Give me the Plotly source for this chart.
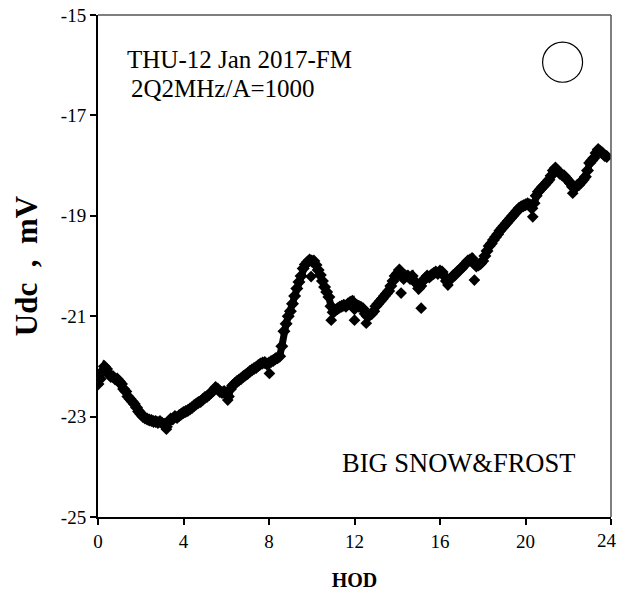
import plotly.graph_objects as go

# Hour of day (HOD) sample times and Udc readings (mV)
hod = [round(i * 0.1, 1) for i in range(0, 239)]
udc = [
    -22.35, -22.25, -22.10, -22.00, -22.05, -22.15, -22.20, -22.20, -22.25, -22.25,
    -22.30, -22.35, -22.45, -22.50, -22.60, -22.65, -22.70, -22.75, -22.82, -22.90,
    -22.95, -23.00, -23.03, -23.05, -23.07, -23.08, -23.10, -23.10, -23.12, -23.10,
    -23.13, -23.15, -23.20, -23.10, -23.05, -23.05, -23.00, -23.02, -22.98, -22.95,
    -22.92, -22.90, -22.88, -22.85, -22.82, -22.78, -22.75, -22.72, -22.70, -22.66,
    -22.62, -22.60, -22.56, -22.52, -22.48, -22.42, -22.45, -22.50, -22.52, -22.50,
    -22.55, -22.60, -22.45, -22.38, -22.34, -22.30, -22.27, -22.24, -22.20, -22.17,
    -22.14, -22.10, -22.07, -22.04, -22.02, -21.98, -21.95, -21.93, -21.92, -21.95,
    -21.93, -21.90, -21.88, -21.85, -21.83, -21.80, -21.60, -21.30, -21.15, -21.00,
    -20.90, -20.75, -20.60, -20.45, -20.32, -20.20, -20.05, -19.97, -19.92, -19.88,
    -19.90, -19.90, -19.98, -20.08, -20.18, -20.30, -20.42, -20.52, -20.62, -20.80,
    -20.92, -20.88, -20.85, -20.82, -20.80, -20.78, -20.80, -20.75, -20.72, -20.70,
    -20.85, -20.78, -20.80, -20.82, -20.85, -20.95, -21.00, -20.98, -20.95, -20.90,
    -20.80, -20.75, -20.70, -20.65, -20.60, -20.55, -20.50, -20.40, -20.30, -20.20,
    -20.15, -20.08, -20.20, -20.25, -20.20, -20.20, -20.25, -20.20, -20.30, -20.35,
    -20.45, -20.40, -20.30, -20.25, -20.20, -20.22, -20.18, -20.15, -20.12, -20.15,
    -20.10, -20.12, -20.20, -20.30, -20.30, -20.25, -20.20, -20.18, -20.12, -20.08,
    -20.05, -20.00, -19.95, -19.90, -19.88, -19.85, -19.95, -20.00, -19.98, -19.95,
    -19.90, -19.80, -19.70, -19.60, -19.55, -19.48, -19.42, -19.37, -19.30, -19.25,
    -19.20, -19.15, -19.10, -19.05, -19.00, -18.95, -18.90, -18.85, -18.82, -18.80,
    -18.78, -18.76, -18.78, -18.85, -18.75, -18.60, -18.52, -18.47, -18.42, -18.38,
    -18.33, -18.28, -18.20, -18.10, -18.05, -18.10, -18.15, -18.18, -18.20, -18.25,
    -18.30, -18.35, -18.42, -18.45, -18.40, -18.38, -18.33, -18.28, -18.22, -18.10,
    -17.95, -17.90, -17.85, -17.75, -17.68, -17.72, -17.75, -17.80, -17.82,
]

# Scattered single readings that stand out from the band
spike_hod = [3.2, 6.07, 8.02, 9.97, 10.91, 12.0, 12.55, 14.18, 15.12, 16.37, 17.61, 20.34, 22.21]
spike_udc = [-23.25, -22.67, -22.14, -20.21, -21.08, -21.08, -21.14, -20.54, -20.84, -20.38, -20.28, -19.02, -18.55]

x_ticks = [0, 4, 8, 12, 16, 20, 24]
y_ticks = [-15, -17, -19, -21, -23, -25]

FONT = "Liberation Serif, Times New Roman, serif"

fig = go.Figure()
fig.add_trace(go.Scatter(
    x=hod, y=udc, mode="lines+markers",
    line=dict(color="black", width=7),
    marker=dict(symbol="diamond", size=10, color="black"),
    showlegend=False, hoverinfo="skip",
))
fig.add_trace(go.Scatter(
    x=spike_hod, y=spike_udc, mode="markers",
    marker=dict(symbol="diamond", size=9, color="black"),
    showlegend=False, hoverinfo="skip",
))

fig.update_layout(
    width=618, height=595,
    margin=dict(l=98, r=7, t=15, b=78),
    paper_bgcolor="white", plot_bgcolor="white",
    font=dict(family=FONT, size=18, color="black"),
    showlegend=False,
)
# last x tick label is drawn as an annotation nudged left so it stays inside the page
x_ticktext = [str(v) for v in x_ticks[:-1]] + [""]
fig.update_xaxes(
    range=[0, 24], tickvals=x_ticks, ticktext=x_ticktext,
    automargin=False, ticklabeloverflow="allow",
    showgrid=False, zeroline=False,
    showline=True, linecolor="black", linewidth=2,
    ticks="outside", ticklen=6, tickwidth=1.5, tickcolor="black",
    tickfont=dict(family=FONT, size=19),
    title=dict(text="<b>HOD</b>", font=dict(family=FONT, size=20), standoff=22),
)
fig.update_yaxes(
    range=[-25, -15], tickvals=y_ticks, ticktext=[str(v) for v in y_ticks],
    automargin=False, ticklabeloverflow="allow",
    showgrid=False, zeroline=False,
    showline=True, linecolor="black", linewidth=2,
    ticks="outside", ticklen=6, tickwidth=1.5, tickcolor="black",
    tickfont=dict(family=FONT, size=19),
    title=dict(text="<b>Udc  ,  mV</b>", font=dict(family=FONT, size=31), standoff=14),
)
fig.add_annotation(x=x_ticks[-1], y=0, xref="x", yref="paper", text=str(x_ticks[-1]),
                   showarrow=False, xanchor="center", yanchor="middle",
                   xshift=-4, yshift=-23, font=dict(family=FONT, size=19))

# top and right frame lines
fig.add_shape(type="line", xref="paper", yref="paper", x0=0, x1=1, y0=1, y1=1,
              line=dict(color="#555555", width=1.5))
fig.add_shape(type="line", xref="paper", yref="paper", x0=1, x1=1, y0=0, y1=1,
              line=dict(color="#555555", width=1.5))

# open circle marker in the top-right corner
fig.add_shape(type="circle", xref="x", yref="y",
              x0=20.8, x1=22.67, y0=-16.34, y1=-15.54,
              line=dict(color="black", width=1.2))

fig.add_annotation(x=1.24, y=-15.88, xref="x", yref="y", text="THU-12 Jan 2017-FM",
                   showarrow=False, xanchor="left", yanchor="middle",
                   font=dict(family=FONT, size=25))
fig.add_annotation(x=1.45, y=-16.46, xref="x", yref="y", text="2Q2MHz/A=1000",
                   showarrow=False, xanchor="left", yanchor="middle",
                   font=dict(family=FONT, size=25))
fig.add_annotation(x=11.3, y=-23.92, xref="x", yref="y", text="BIG SNOW&amp;FROST",
                   showarrow=False, xanchor="left", yanchor="middle",
                   font=dict(family=FONT, size=26.5))

fig.write_html("out.html", config={"displayModeBar": False},
               post_script="document.body.style.margin='0px';")
